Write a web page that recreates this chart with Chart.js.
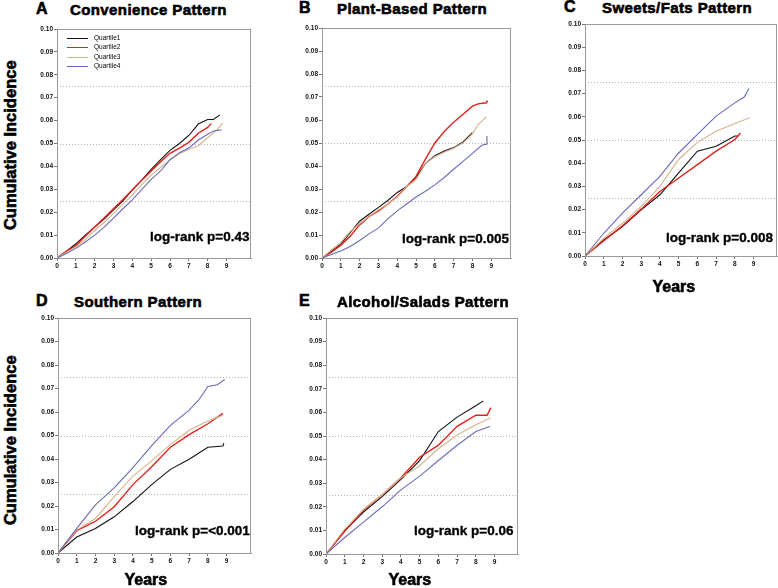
<!DOCTYPE html>
<html>
<head>
<meta charset="utf-8">
<script src="https://cdn.jsdelivr.net/npm/chart.js@4"></script>
<style>
  html, body { margin:0; padding:0; background:#fff; }
  #wrap { position:relative; width:778px; height:588px; overflow:hidden; background:#fff; }
  canvas { position:absolute; }
  .txt { position:absolute; white-space:nowrap; font-family:"Liberation Sans", Arial, sans-serif; font-weight:bold; color:#000; line-height:1; }
  .head { -webkit-text-stroke:0.6px #000; }
  .leg { position:absolute; font-family:"Liberation Sans", Arial, sans-serif; font-size:6.5px; line-height:1; color:#000; white-space:nowrap; }
  .legline { position:absolute; height:0; }
</style>
</head>
<body>
<div id="wrap"></div>
<script>
// ---------------- DATA ----------------
const quartileLabels = ['Quartile1', 'Quartile2', 'Quartile3', 'Quartile4'];
const panelLetters = ['A', 'B', 'C', 'D', 'E'];
const panelTitles = ['Convenience Pattern', 'Plant-Based Pattern', 'Sweets/Fats Pattern', 'Southern Pattern', 'Alcohol/Salads Pattern'];
const logRankTexts = ['log-rank p=0.43', 'log-rank p=0.005', 'log-rank p=0.008', 'log-rank p=<0.001', 'log-rank p=0.06'];
const yAxisTitle = 'Cumulative Incidence';
const xAxisTitle = 'Years';
const refLineValues = [0.025, 0.05, 0.075];

// Panel A: Convenience Pattern  [years, cumulative incidence]
const convenienceQ1 = [[0,0],[0.5,0.003],[1,0.0062],[1.5,0.01],[2,0.0135],[2.5,0.017],[3,0.021],[3.5,0.025],[4,0.0297],[4.5,0.034],[5,0.0387],[5.5,0.043],[6,0.047],[6.5,0.05],[7,0.0535],[7.5,0.0585],[8,0.0605],[8.3,0.0605],[8.65,0.0625]];
const convenienceQ2 = [[0,0],[0.5,0.003],[1,0.0054],[1.5,0.0095],[2,0.0135],[2.5,0.0175],[3,0.0215],[3.5,0.0255],[4,0.0297],[4.5,0.034],[5,0.038],[5.5,0.042],[6,0.0457],[6.5,0.048],[7,0.0505],[7.5,0.0545],[8,0.057],[8.2,0.0588]];
const convenienceQ3 = [[0,0],[0.5,0.0025],[1,0.0048],[1.5,0.008],[2,0.012],[2.5,0.0155],[3,0.0195],[3.5,0.0235],[4,0.0275],[4.5,0.032],[5,0.0362],[5.5,0.0395],[6,0.0428],[6.5,0.0455],[7,0.0475],[7.5,0.049],[8,0.0525],[8.5,0.056],[8.8,0.059]];
const convenienceQ4 = [[0,0],[0.5,0.002],[1,0.0042],[1.5,0.007],[2,0.01],[2.5,0.0135],[3,0.0174],[3.5,0.0215],[4,0.0254],[4.5,0.03],[5,0.0343],[5.5,0.038],[6,0.043],[6.5,0.046],[7,0.048],[7.5,0.0515],[8,0.054],[8.3,0.0555],[8.75,0.056]];

// Panel B: Plant-Based Pattern
const plantQ1 = [[0,0],[0.5,0.003],[1,0.006],[1.5,0.011],[2,0.016],[2.5,0.019],[3,0.022],[3.5,0.025],[4,0.0285],[4.5,0.031],[5,0.035],[5.5,0.041],[6,0.0445],[6.5,0.0465],[7,0.048],[7.5,0.0505],[8,0.0545]];
const plantQ2 = [[0,0],[0.5,0.0025],[1,0.0056],[1.5,0.0095],[2,0.0144],[2.5,0.018],[3,0.0205],[3.5,0.0235],[4,0.0268],[4.5,0.031],[5,0.0355],[5.5,0.043],[6,0.05],[6.5,0.055],[7,0.059],[7.5,0.0625],[8,0.066],[8.3,0.067],[8.75,0.0675],[8.8,0.0685]];
const plantQ3 = [[0,0],[0.5,0.0035],[1,0.0068],[1.5,0.0115],[2,0.015],[2.5,0.018],[3,0.021],[3.5,0.0235],[4,0.0265],[4.5,0.031],[5,0.034],[5.5,0.041],[6,0.044],[6.5,0.046],[7,0.0477],[7.5,0.05],[8,0.054],[8.3,0.058],[8.75,0.0615]];
const plantQ4 = [[0,0],[0.5,0.0015],[1,0.003],[1.5,0.005],[2,0.0076],[2.5,0.0105],[3,0.013],[3.5,0.017],[4,0.0205],[4.5,0.0235],[5,0.0265],[5.5,0.029],[6,0.0318],[6.5,0.035],[7,0.0386],[7.5,0.042],[8,0.0455],[8.5,0.049],[8.75,0.0495],[8.77,0.053]];

// Panel C: Sweets/Fats Pattern
const sweetsQ1 = [[0,0],[1,0.0069],[2,0.0127],[3,0.0199],[4,0.0264],[5,0.0358],[6,0.0452],[7,0.0473],[8,0.0517],[8.2,0.0517]];
const sweetsQ2 = [[0,0],[1,0.0066],[2,0.013],[3,0.0202],[4,0.0278],[5,0.0336],[6,0.0394],[7,0.0452],[8,0.0502],[8.3,0.053]];
const sweetsQ3 = [[0,0],[1,0.0077],[2,0.0141],[3,0.0214],[4,0.03],[5,0.0416],[6,0.049],[7,0.0538],[8,0.0571],[8.8,0.0596]];
const sweetsQ4 = [[0,0],[1,0.0098],[2,0.0185],[3,0.0264],[4,0.0343],[5,0.0444],[6,0.0524],[7,0.0603],[8,0.066],[8.5,0.0685],[8.75,0.0722]];

// Panel D: Southern Pattern
const southernQ1 = [[0,0],[1,0.0068],[2,0.0104],[3,0.0154],[4,0.0219],[5,0.0291],[6,0.0356],[7,0.0399],[8,0.045],[8.8,0.0455],[8.85,0.0467]];
const southernQ2 = [[0,0],[1,0.0095],[2,0.0135],[3,0.0197],[4,0.0291],[5,0.0367],[6,0.045],[7,0.0504],[8,0.055],[8.8,0.0594]];
const southernQ3 = [[0,0],[1,0.0098],[2,0.0147],[3,0.024],[4,0.0327],[5,0.0392],[6,0.0461],[7,0.0522],[8,0.0562],[8.8,0.0586]];
const southernQ4 = [[0,0],[1,0.0105],[2,0.0205],[3,0.0277],[4,0.0363],[5,0.0457],[6,0.0543],[7,0.0608],[7.5,0.065],[8,0.0709],[8.5,0.0716],[8.9,0.0738]];

// Panel E: Alcohol/Salads Pattern
const alcoholQ1 = [[0,0],[1,0.0099],[2,0.0178],[3,0.0243],[4,0.0316],[5,0.0396],[6,0.0519],[7,0.058],[8,0.0628],[8.4,0.0649]];
const alcoholQ2 = [[0,0],[1,0.0096],[2,0.0186],[3,0.0251],[4,0.0323],[5,0.041],[6,0.0461],[7,0.0541],[8,0.0588],[8.6,0.0588],[8.8,0.062]];
const alcoholQ3 = [[0,0],[1,0.0106],[2,0.0188],[3,0.0251],[4,0.0323],[5,0.0374],[6,0.0446],[7,0.0504],[8,0.0548],[8.8,0.0577]];
const alcoholQ4 = [[0,0],[1,0.007],[2,0.0135],[3,0.02],[4,0.0272],[5,0.033],[6,0.0396],[7,0.0461],[8,0.0519],[8.75,0.054]];

const panelSeries = [
  [convenienceQ1, convenienceQ2, convenienceQ3, convenienceQ4],
  [plantQ1, plantQ2, plantQ3, plantQ4],
  [sweetsQ1, sweetsQ2, sweetsQ3, sweetsQ4],
  [southernQ1, southernQ2, southernQ3, southernQ4],
  [alcoholQ1, alcoholQ2, alcoholQ3, alcoholQ4]
];

// ---------------- LAYOUT / STYLE ----------------
const lineColors = ['#111111', '#e3201c', '#d6b48e', '#6a6ab8'];
const lineWidths = [1.1, 1.4, 1.1, 1.1];
// plot boxes: [left, top, right, bottom] in page pixels
const boxes = [
  [57, 29, 251, 258],
  [322, 28, 511, 258],
  [585, 24, 777, 256],
  [58, 318, 251, 553],
  [326, 318, 518, 554]
];
const xMaxes = [10.3, 10.05, 10.25, 10.3, 10.25];
const letterPos = [[36, 15], [299, 14], [564, 13], [36, 307], [299, 307]];
const titlePos = [[70, 15], [337, 14], [602, 13], [74, 307], [337, 307]];
const logRankPos = [[249, 241], [509, 243], [773, 242], [250, 535], [513, 535]];
const yTitleCenters = [[10, 145], [10, 440]];
const xTitleCenters = [[674, 293], [146, 586], [410, 586]];

const YW = 30, XH = 14, PT = 6, PR = 1;
const wrap = document.getElementById('wrap');

function addText(text, cls, fs, left, baseline, extra) {
  const d = document.createElement('div');
  d.className = 'txt ' + (cls || '');
  d.textContent = text;
  d.style.fontSize = fs + 'px';
  d.style.top = (baseline - 0.8465 * fs) + 'px';
  d.style.left = left + 'px';
  if (extra) Object.assign(d.style, extra);
  wrap.appendChild(d);
  return d;
}

const framePlugin = {
  id: 'frameRefs',
  beforeDatasetsDraw(chart) {
    const ctx = chart.ctx, a = chart.chartArea, ys = chart.scales.y;
    ctx.save();
    ctx.strokeStyle = '#b5b5b5';
    ctx.lineWidth = 1;
    ctx.setLineDash([1, 2]);
    refLineValues.forEach(v => {
      const py = Math.round(ys.getPixelForValue(v)) + 0.5;
      ctx.beginPath(); ctx.moveTo(a.left, py); ctx.lineTo(a.right, py); ctx.stroke();
    });
    ctx.restore();
  },
  afterDraw(chart) {
    const ctx = chart.ctx, a = chart.chartArea;
    ctx.save();
    ctx.strokeStyle = '#9a9a9a';
    ctx.lineWidth = 1;
    ctx.strokeRect(Math.round(a.left) + 0.5, Math.round(a.top) + 0.5, Math.round(a.right - a.left) - 1, Math.round(a.bottom - a.top));
    ctx.restore();
  }
};

const tickFont = { family: '"Liberation Sans", Arial, sans-serif', size: 6.5, weight: 'bold' };

panelSeries.forEach((series, p) => {
  const [L, T, R, B] = boxes[p];
  const cv = document.createElement('canvas');
  const w = (R - L) + YW + PR, h = (B - T) + PT + XH;
  cv.width = w; cv.height = h;
  cv.style.left = (L - YW) + 'px';
  cv.style.top = (T - PT) + 'px';
  cv.style.width = w + 'px'; cv.style.height = h + 'px';
  wrap.appendChild(cv);

  new Chart(cv, {
    type: 'line',
    data: {
      datasets: series.map((s, i) => ({
        label: quartileLabels[i],
        data: s.map(pt => ({ x: pt[0], y: pt[1] })),
        borderColor: lineColors[i],
        borderWidth: lineWidths[i],
        pointRadius: 0,
        tension: 0,
        fill: false
      })).reverse()
    },
    options: {
      responsive: false,
      animation: false,
      devicePixelRatio: 1,
      layout: { padding: { top: PT, right: PR, left: 0, bottom: 0 } },
      plugins: { legend: { display: false }, tooltip: { enabled: false } },
      scales: {
        x: {
          type: 'linear', min: 0, max: xMaxes[p],
          afterFit(s) { s.height = XH; },
          ticks: {
            stepSize: 1, autoSkip: false, maxRotation: 0, padding: 1,
            font: tickFont, color: '#111',
            callback: v => (v <= 9 && Number.isInteger(v)) ? String(v) : ''
          },
          grid: {
            drawOnChartArea: false, tickLength: 3,
            color: c => (c.tick && c.tick.value <= 9) ? '#777' : 'rgba(0,0,0,0)'
          },
          border: { color: '#9a9a9a' }
        },
        y: {
          min: 0, max: 0.1,
          afterFit(s) { s.width = YW; },
          ticks: { stepSize: 0.01, padding: 1, font: tickFont, color: '#111', callback: v => Number(v).toFixed(2) },
          grid: { drawOnChartArea: false, tickLength: 3, color: '#777' },
          border: { color: '#9a9a9a' }
        }
      }
    },
    plugins: [framePlugin]
  });

  // panel letter & title
  addText(panelLetters[p], 'head', 16, letterPos[p][0], letterPos[p][1]);
  addText(panelTitles[p], 'head', 15, titlePos[p][0], titlePos[p][1], { letterSpacing: '0.4px' });
  // log-rank annotation (right aligned)
  const lr = addText(logRankTexts[p], 'head', 13.5, 0, logRankPos[p][1], { webkitTextStroke: '0.35px #000' });
  lr.style.left = (logRankPos[p][0] - lr.offsetWidth) + 'px';
});

// y axis titles (rotated)
yTitleCenters.forEach(([cx, cy]) => {
  const d = addText(yAxisTitle, 'head', 16.5, 0, 0);
  const wdt = d.offsetWidth, hgt = d.offsetHeight;
  d.style.left = (cx - wdt / 2) + 'px';
  d.style.top = (cy - hgt / 2) + 'px';
  d.style.transform = 'rotate(-90deg)';
});
// x axis titles
xTitleCenters.forEach(([cx, by]) => {
  const d = addText(xAxisTitle, 'head', 16, 0, by);
  d.style.left = (cx - d.offsetWidth / 2) + 'px';
});

// legend in panel A
const legRows = [38, 47.5, 57, 66.5];
quartileLabels.forEach((lab, i) => {
  const ln = document.createElement('div');
  ln.className = 'legline';
  ln.style.left = '67px'; ln.style.width = '21px';
  ln.style.top = (legRows[i] - 0.5) + 'px';
  ln.style.borderTop = '1px solid ' + lineColors[i];
  wrap.appendChild(ln);
  const t = document.createElement('div');
  t.className = 'leg';
  t.textContent = lab;
  t.style.left = '94px';
  t.style.top = (legRows[i] - 3.5) + 'px';
  wrap.appendChild(t);
});
</script>
</body>
</html>
